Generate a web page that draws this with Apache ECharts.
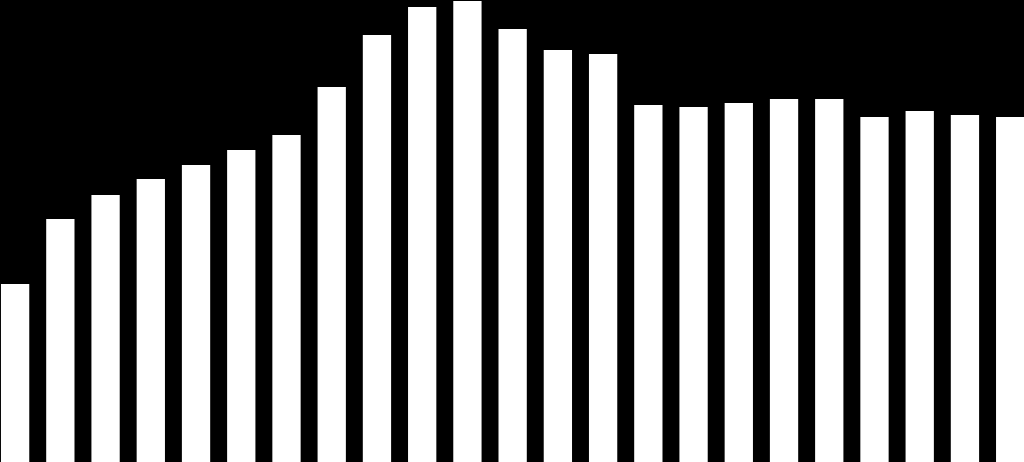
<!DOCTYPE html>
<html>
<head>
<meta charset="utf-8">
<script src="https://cdn.jsdelivr.net/npm/echarts@6/dist/echarts.min.js"></script>
<style>
  html, body { margin: 0; padding: 0; background: #000; }
  #chart { width: 1024px; height: 462px; }
</style>
</head>
<body>
<div id="chart"></div>
<script>
// Data (bar heights, pixel units)
const categories = ['1', '2', '3', '4', '5', '6', '7', '8', '9', '10', '11', '12',
    '13', '14', '15', '16', '17', '18', '19', '20', '21', '22', '23'];
const values = [178, 243, 267, 283, 297, 312, 327, 375, 427, 455, 461, 433,
    412, 408, 357, 355, 359, 363, 363, 345, 351, 347, 345];
const yMax = 462;

const chart = echarts.init(document.getElementById('chart'));
chart.setOption({
    backgroundColor: '#000',
    animation: false,
    grid: {
        left: -7.5,
        top: 0,
        bottom: 0,
        width: 1040.3,
        containLabel: false,
        outerBoundsMode: 'none'
    },
    xAxis: {
        type: 'category',
        data: categories,
        show: false
    },
    yAxis: {
        type: 'value',
        min: 0,
        max: yMax,
        show: false
    },
    series: [{
        type: 'bar',
        data: values,
        barWidth: 28.3,
        itemStyle: { color: '#fff' }
    }]
});
</script>
</body>
</html>
